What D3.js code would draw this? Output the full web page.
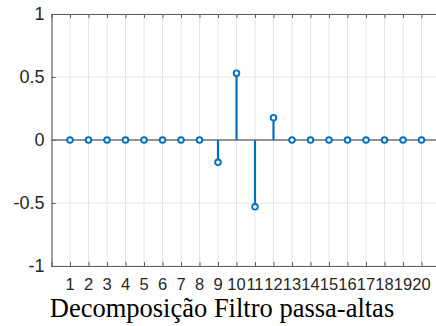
<!DOCTYPE html>
<html>
<head>
<meta charset="utf-8">
<script src="https://cdn.jsdelivr.net/npm/d3@7"></script>
<style>
  html, body { margin: 0; padding: 0; background: #fff; }
  svg { display: block; }
  .tick-label { font-family: "Liberation Sans", Arial, sans-serif; fill: #262626; }
  .x-label { font-size: 16.5px; }
  .y-label { font-size: 18px; }
  .title { font-family: "Liberation Serif", "Times New Roman", serif; font-size: 26.5px; fill: #000; }
</style>
</head>
<body>
<svg id="chart" width="436" height="326"></svg>
<script>
// Sample indices of the high-pass decomposition filter
const sampleIndex = [1, 2, 3, 4, 5, 6, 7, 8, 9, 10, 11, 12, 13, 14, 15, 16, 17, 18, 19, 20];
// Filter coefficients per sample
const coefficients = [0, 0, 0, 0, 0, 0, 0, 0, -0.1768, 0.5303, -0.5303, 0.1768, 0, 0, 0, 0, 0, 0, 0, 0];
// Y-axis ticks and their labels
const yTickValues = [-1, -0.5, 0, 0.5, 1];
const yTickLabels = ["-1", "-0.5", "0", "0.5", "1"];
// X-axis tick labels
const xTickLabels = ["1","2","3","4","5","6","7","8","9","10","11","12","13","14","15","16","17","18","19","20"];
const titleText = "Decomposição Filtro passa-altas";

const svg = d3.select("#chart");
const plotLeft = 51.5, plotRight = 440, plotTop = 14, plotBottom = 266;

const x = d3.scaleLinear().domain([0, 21]).range([plotLeft, plotRight]);
const y = d3.scaleLinear().domain([-1, 1]).range([plotBottom, plotTop]);

const axisColor = "#5f5f5f";
const gridColor = "#e4e4e4";
const stemColor = "#0072BD";

// Grid lines
const grid = svg.append("g");
grid.selectAll("line.vg").data(sampleIndex).join("line")
  .attr("class", "vg")
  .attr("x1", d => x(d)).attr("x2", d => x(d))
  .attr("y1", plotTop).attr("y2", plotBottom)
  .attr("stroke", gridColor).attr("stroke-width", 1);
grid.selectAll("line.hg").data(yTickValues).join("line")
  .attr("class", "hg")
  .attr("x1", plotLeft).attr("x2", plotRight)
  .attr("y1", d => y(d)).attr("y2", d => y(d))
  .attr("stroke", gridColor).attr("stroke-width", 1);

// Axes with inward ticks
const xAxisBottom = d3.axisBottom(x).tickValues(sampleIndex).tickSize(-4).tickFormat("");
const xAxisTop = d3.axisTop(x).tickValues(sampleIndex).tickSize(-4).tickFormat("");
const yAxisLeft = d3.axisLeft(y).tickValues(yTickValues).tickSize(-4).tickFormat("");

function styleAxis(g) {
  g.selectAll("path.domain").attr("stroke", axisColor).attr("stroke-width", 1.2);
  g.selectAll(".tick line").attr("stroke", axisColor).attr("stroke-width", 1);
}
svg.append("g").attr("transform", `translate(0,${plotBottom})`).call(xAxisBottom).call(styleAxis);
svg.append("g").attr("transform", `translate(0,${plotTop})`).call(xAxisTop).call(styleAxis);
svg.append("g").attr("transform", `translate(${plotLeft},0)`).call(yAxisLeft).call(styleAxis);

// Tick labels
svg.append("g").selectAll("text").data(sampleIndex).join("text")
  .attr("class", "tick-label x-label")
  .attr("x", d => x(d)).attr("y", 289.5)
  .attr("text-anchor", "middle")
  .text((d, i) => xTickLabels[i]);
svg.append("g").selectAll("text").data(yTickValues).join("text")
  .attr("class", "tick-label y-label")
  .attr("x", plotLeft - 7).attr("y", d => y(d))
  .attr("dy", "0.35em")
  .attr("text-anchor", "end")
  .text((d, i) => yTickLabels[i]);

// Baseline at zero
svg.append("line")
  .attr("x1", plotLeft).attr("x2", plotRight)
  .attr("y1", y(0)).attr("y2", y(0))
  .attr("stroke", "#737373").attr("stroke-width", 1.3);

// Stems and markers
const data = sampleIndex.map((s, i) => ({ s, v: coefficients[i] }));
svg.append("g").selectAll("line").data(data).join("line")
  .attr("x1", d => x(d.s)).attr("x2", d => x(d.s))
  .attr("y1", y(0)).attr("y2", d => y(d.v))
  .attr("stroke", stemColor).attr("stroke-width", 2.2);
svg.append("g").selectAll("circle").data(data).join("circle")
  .attr("cx", d => x(d.s)).attr("cy", d => y(d.v))
  .attr("r", 2.8)
  .attr("fill", "#fff")
  .attr("stroke", stemColor).attr("stroke-width", 1.9);

// Title below the axes
svg.append("text").attr("class", "title")
  .attr("x", 222).attr("y", 317)
  .attr("text-anchor", "middle")
  .text(titleText);
</script>
</body>
</html>
